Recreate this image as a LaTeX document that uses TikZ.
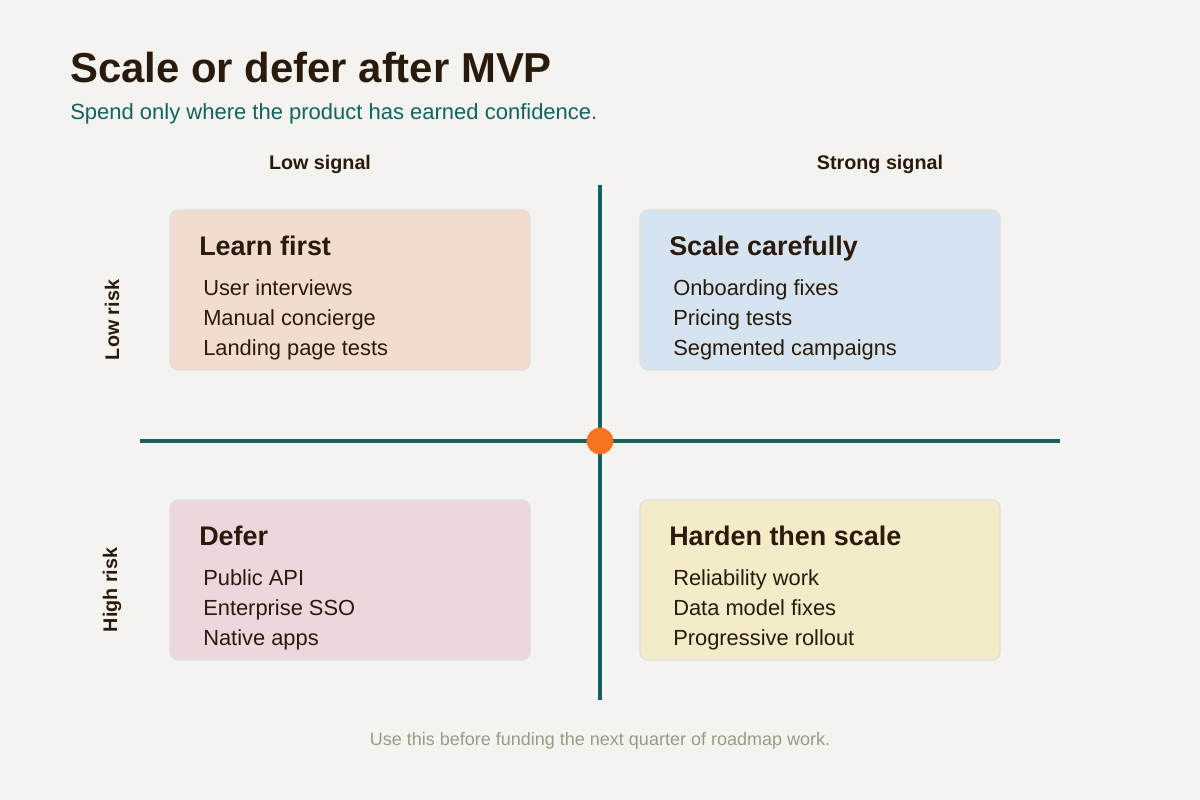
\documentclass[tikz,border=0pt]{standalone}
\usepackage{fontspec}
\setmainfont{Liberation Sans}
\usetikzlibrary{positioning}

\definecolor{paper}{HTML}{F5F3EF}
\definecolor{ink}{HTML}{2A1A0C}
\definecolor{teal}{HTML}{12635F}
\definecolor{dot}{HTML}{F47421}
\definecolor{muted}{HTML}{9A9A88}
\definecolor{peach}{HTML}{F3DCCF}
\definecolor{sky}{HTML}{D5E4F0}
\definecolor{rose}{HTML}{ECD7DC}
\definecolor{sand}{HTML}{F4EBC8}

\tikzset{
  quad/.style={draw=black!12, line width=1pt, rounded corners=6pt, minimum width=270pt, minimum height=120pt},
  quadtitle/.style={anchor=base west, inner sep=0pt, font=\bfseries\fontsize{20.2}{24}\selectfont, text=ink},
  quaditem/.style={anchor=base west, inner sep=0pt, font=\fontsize{16.4}{20}\selectfont, text=ink},
  axislabel/.style={font=\bfseries\fontsize{14.8}{18}\selectfont, text=ink},
  axis/.style={draw=teal, line width=2.4pt}
}

\begin{document}
\begin{tikzpicture}[x=0.75pt,y=-0.75pt]
    \fill[paper] (0,0) rectangle (1200,800);
    \useasboundingbox (0,0) rectangle (1200,800);

    % heading
    \node[anchor=base west, inner sep=0pt, font=\bfseries\fontsize{31.4}{36}\selectfont, text=ink] (title) at (70,82) {Scale or defer after MVP};
    \node[anchor=base west, inner sep=0pt, font=\fontsize{16.5}{20}\selectfont, text=teal] (subtitle) at (70,119) {Spend only where the product has earned confidence.};

    % axes
    \coordinate (top) at (600,185);
    \coordinate (bottom) at (600,700);
    \coordinate (left) at (140,441);
    \coordinate (right) at (1060,441);
    \draw[axis] (top) -- (bottom);
    \draw[axis] (left) -- (right);
    \node[circle, fill=dot, inner sep=0pt, minimum size=20pt] (centre) at (600,441) {};

    \node[axislabel] (lowsig) at (320,164) {Low signal};
    \node[axislabel] (strongsig) at (880,164) {Strong signal};
    \node[axislabel, rotate=90] (lowrisk) at (112,320) {Low risk};
    \node[axislabel, rotate=90] (highrisk) at (112,590) {High risk};

    % quadrants
    \node[quad, fill=peach] (learn) at (350,290) {};
    \node[quad, fill=sky] (scale) at (820,290) {};
    \node[quad, fill=rose] (defer) at (350,580) {};
    \node[quad, fill=sand] (harden) at (820,580) {};

    \node[quadtitle] (learnT) at (199,255) {Learn first};
    \node[quaditem] (learnA) at (203,295) {User interviews};
    \node[quaditem] (learnB) at (203,325) {Manual concierge};
    \node[quaditem] (learnC) at (203,355) {Landing page tests};

    \node[quadtitle] (scaleT) at (669,255) {Scale carefully};
    \node[quaditem] (scaleA) at (673,295) {Onboarding fixes};
    \node[quaditem] (scaleB) at (673,325) {Pricing tests};
    \node[quaditem] (scaleC) at (673,355) {Segmented campaigns};

    \node[quadtitle] (deferT) at (199,545) {Defer};
    \node[quaditem] (deferA) at (203,585) {Public API};
    \node[quaditem] (deferB) at (203,615) {Enterprise SSO};
    \node[quaditem] (deferC) at (203,645) {Native apps};

    \node[quadtitle] (hardenT) at (669,545) {Harden then scale};
    \node[quaditem] (hardenA) at (673,585) {Reliability work};
    \node[quaditem] (hardenB) at (673,615) {Data model fixes};
    \node[quaditem] (hardenC) at (673,645) {Progressive rollout};

    % footer
    \node[font=\fontsize{13.5}{16}\selectfont, text=muted] (note) at (600,741) {Use this before funding the next quarter of roadmap work.};
\end{tikzpicture}
\end{document}
